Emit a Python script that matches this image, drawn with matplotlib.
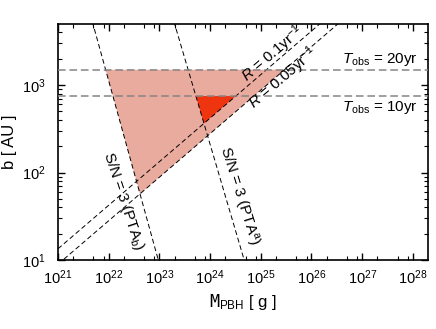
import numpy as np
import matplotlib
matplotlib.use('Agg')
from matplotlib import pyplot as plt
from matplotlib.ticker import FixedLocator, NullFormatter

plt.rcParams['font.family'] = ['Liberation Sans', 'DejaVu Sans']
plt.rcParams['mathtext.fontset'] = 'custom'
plt.rcParams['mathtext.rm'] = 'Liberation Sans'
plt.rcParams['mathtext.it'] = 'Liberation Sans:italic'

# line end points (mass in g, b in AU)
m_r01 = [1e21, 1.45e26]
b_r01 = [13.4, 5000]
m_r005 = [1.26e21, 3.3e26]
b_r005 = [10, 5000]
m_ptab = [4.9e21, 9.5e22]
b_ptab = [5000, 10]
m_ptaa = [2.0e23, 4.7e24]
b_ptaa = [5000, 10]
t_obs_b = [1500, 750]
t_obs_labels = [r'$T_{\rm obs}$ = 20yr', r'$T_{\rm obs}$ = 10yr']

xlim = (1e21, 2e28)
ylim = (10, 5000)
x_decades = np.arange(21, 29)
y_decades = np.arange(1, 4)


def logline(m, b):
    '''slope and intercept of a power law in log10 space'''
    s, a = np.polyfit(np.log10(m), np.log10(b), 1)
    return s, a


def cross(l1, l2):
    s1, a1 = l1
    s2, a2 = l2
    x = (a2 - a1) / (s1 - s2)
    return 10**x, 10**(a1 + s1 * x)


def at_b(l, b):
    s, a = l
    return 10**((np.log10(b) - a) / s)


r01 = logline(m_r01, b_r01)
r005 = logline(m_r005, b_r005)
ptab = logline(m_ptab, b_ptab)
ptaa = logline(m_ptaa, b_ptaa)

fig = plt.figure(figsize=(4.36, 3.29), dpi=100)
ax = fig.add_axes([0.133, 0.21, 0.849, 0.717])
ax.set_xscale('log')
ax.set_yscale('log')
ax.set_xlim(*xlim)
ax.set_ylim(*ylim)

# light region: S/N(PTAb) > 3, R > 0.05/yr, T_obs < 20yr
p1 = (at_b(ptab, t_obs_b[0]), t_obs_b[0])
p2 = (at_b(r005, t_obs_b[0]), t_obs_b[0])
p3 = cross(ptab, r005)
ax.fill([p1[0], p2[0], p3[0]], [p1[1], p2[1], p3[1]], color='#eaab9f', lw=0, zorder=1)

# dark region: S/N(PTAa) > 3, R > 0.1/yr, T_obs < 10yr
q1 = (at_b(ptaa, t_obs_b[1]), t_obs_b[1])
q2 = (at_b(r01, t_obs_b[1]), t_obs_b[1])
q3 = cross(ptaa, r01)
ax.fill([q1[0], q2[0], q3[0]], [q1[1], q2[1], q3[1]], color='#ee3510', lw=0, zorder=2)

xx = np.logspace(21, 28.5, 50)
for s, a in [r01, r005, ptab, ptaa]:
    ax.plot(xx, 10**(a + s * np.log10(xx)), color='k', lw=0.7, ls=(0, (5, 3)), zorder=3)

for b in t_obs_b:
    ax.axhline(b, color='#858585', lw=1.1, ls=(0, (5, 2.5)), zorder=3)

ax.text(10**28.1, 1950, t_obs_labels[0], ha='right', va='center', fontsize=11)
ax.text(10**28.1, 560, t_obs_labels[1], ha='right', va='center', fontsize=11)


def angle(l, m):
    s, a = l
    p = ax.transData.transform([(m, 10**(a + s * np.log10(m))),
                                (m * 10, 10**(a + s * (np.log10(m) + 1)))])
    d = p[1] - p[0]
    return np.degrees(np.arctan2(d[1], d[0]))


ax.text(10**25.24, 2250, r'$R$ = 0.1yr$^{-1}$', rotation=angle(r01, 1e25),
        ha='center', va='center', fontsize=11, rotation_mode='anchor')
ax.text(10**25.44, 1190, r'$R$ = 0.05yr$^{-1}$', rotation=angle(r005, 1e25),
        ha='center', va='center', fontsize=11, rotation_mode='anchor')
ax.text(10**22.29, 47, r'S/N = 3 (PTA$_{\rm b}$)', rotation=angle(ptab, 1e22) + 2.5,
        ha='center', va='center', fontsize=11, rotation_mode='anchor')
ax.text(10**24.56, 53, r'S/N = 3 (PTA$^{\rm a}$)', rotation=angle(ptaa, 1e24) + 1,
        ha='center', va='center', fontsize=11, rotation_mode='anchor')

ax.set_xticks(10.0**x_decades)
ax.set_xticklabels([r'$10^{%d}$' % d for d in x_decades])
minor_x = [m * 10.0**d for d in x_decades for m in (2, 5, 8) if m * 10.0**d < xlim[1]]
ax.xaxis.set_minor_locator(FixedLocator(minor_x))
ax.xaxis.set_minor_formatter(NullFormatter())
ax.set_yticks(10.0**y_decades)
ax.set_yticklabels([r'$10^{%d}$' % d for d in y_decades])
minor_y = [m * 10.0**d for d in y_decades for m in range(2, 10) if m * 10.0**d < ylim[1]]
ax.yaxis.set_minor_locator(FixedLocator(minor_y))
ax.yaxis.set_minor_formatter(NullFormatter())
ax.tick_params(which='both', direction='in', top=True, right=True, labelsize=10.5)
ax.tick_params(which='major', length=5, width=1)
ax.tick_params(which='minor', length=3, width=0.8)
ax.tick_params(axis='x', pad=6)
ax.tick_params(axis='y', pad=9)
for sp in ax.spines.values():
    sp.set_linewidth(1.2)

ax.set_xlabel(r'$\mathtt{M}_{\rm PBH}$ [ g ]', fontsize=12, labelpad=4)
ax.set_ylabel('b [ AU ]', fontsize=12)
ax.yaxis.set_label_coords(-0.11, 0.5)

fig.savefig('out.png', dpi=100)
